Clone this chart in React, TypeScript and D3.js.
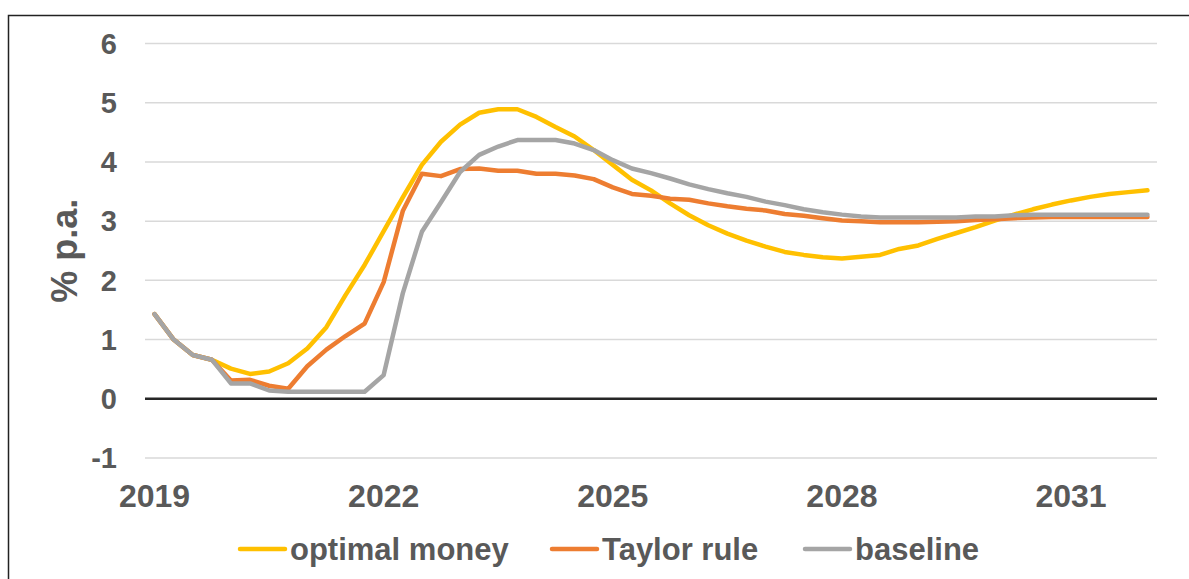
import React from "react";
import * as d3 from "d3";

// quarterly periods 2019Q1 .. 2032Q1
const years = [2019, 2020, 2021, 2022, 2023, 2024, 2025, 2026, 2027, 2028, 2029, 2030, 2031, 2032];
const periods: string[] = years
  .flatMap((y) => ["Q1", "Q2", "Q3", "Q4"].map((q) => `${y}${q}`))
  .slice(0, 53);

const xTickLabels = ["2019", "2022", "2025", "2028", "2031"];
const yTicks = [-1, 0, 1, 2, 3, 4, 5, 6];

const optimalMoney = [
  1.43, 1.0, 0.74, 0.66, 0.51, 0.42, 0.46, 0.6, 0.85, 1.21, 1.75, 2.26, 2.83,
  3.4, 3.95, 4.34, 4.63, 4.83, 4.89, 4.89, 4.76, 4.59, 4.43, 4.2, 3.95, 3.7,
  3.52, 3.3, 3.1, 2.93, 2.79, 2.67, 2.57, 2.48, 2.43, 2.39, 2.37, 2.4, 2.43,
  2.53, 2.59, 2.7, 2.8, 2.9, 3.01, 3.11, 3.2, 3.28, 3.35, 3.41, 3.46, 3.49, 3.52,
];
const taylorRule = [
  1.43, 1.0, 0.74, 0.66, 0.31, 0.32, 0.22, 0.17, 0.55, 0.83, 1.06, 1.27, 1.97,
  3.17, 3.8, 3.76, 3.88, 3.89, 3.85, 3.85, 3.8, 3.8, 3.77, 3.71, 3.57, 3.46,
  3.43, 3.38, 3.36, 3.3, 3.25, 3.21, 3.18, 3.12, 3.09, 3.05, 3.01, 3.0, 2.98,
  2.98, 2.98, 2.99, 3.0, 3.02, 3.03, 3.05, 3.06, 3.07, 3.07, 3.07, 3.07, 3.07, 3.07,
];
const baseline = [
  1.43, 1.0, 0.74, 0.66, 0.26, 0.26, 0.14, 0.12, 0.12, 0.12, 0.12, 0.12, 0.4,
  1.78, 2.82, 3.32, 3.83, 4.12, 4.26, 4.37, 4.37, 4.37, 4.31, 4.2, 4.03, 3.89,
  3.81, 3.72, 3.62, 3.54, 3.47, 3.41, 3.33, 3.27, 3.2, 3.15, 3.11, 3.08, 3.06,
  3.06, 3.06, 3.06, 3.06, 3.08, 3.08, 3.1, 3.11, 3.11, 3.11, 3.11, 3.11, 3.11, 3.11,
];

const series = [
  { name: "optimal money", values: optimalMoney, color: "#FFC000" },
  { name: "Taylor rule", values: taylorRule, color: "#ED7D31" },
  { name: "baseline", values: baseline, color: "#A5A5A5" },
];

const W = 1189;
const H = 579;
const font = "'Liberation Sans', Arial, sans-serif";
const textColor = "#595959";

export default function App() {
  const x = d3.scalePoint<string>().domain(periods).range([145, 1157]).padding(0.5);
  const y = d3.scaleLinear().domain([-1, 6]).range([458, 43.5]);

  const line = d3
    .line<number>()
    .x((_, i) => x(periods[i])!)
    .y((d) => y(d));

  const legendX = [240, 552, 805];

  return (
    <svg
      width={W}
      height={H}
      style={{ position: "absolute", left: 0, top: 0, display: "block", background: "#fff" }}
    >
      <rect x={8.5} y={15.5} width={1300} height={700} fill="#fff" stroke="#222" strokeWidth={1.5} />

      {/* gridlines */}
      {yTicks.map((t) => (
        <line
          key={t}
          x1={145}
          x2={1157}
          y1={y(t)}
          y2={y(t)}
          stroke={t === 0 ? "#262626" : "#D9D9D9"}
          strokeWidth={t === 0 ? 2.5 : 1.5}
        />
      ))}

      {/* y tick labels */}
      {yTicks.map((t) => (
        <text
          key={t}
          x={117}
          y={y(t)}
          dy="0.35em"
          textAnchor="end"
          fontFamily={font}
          fontWeight="bold"
          fontSize={29}
          fill={textColor}
        >
          {t}
        </text>
      ))}

      <text
        transform={`translate(64,${(y(6) + y(-1)) / 2}) rotate(-90)`}
        textAnchor="middle"
        dy="0.35em"
        fontFamily={font}
        fontWeight="bold"
        fontSize={36}
        fill={textColor}
      >
        % p.a.
      </text>

      {/* x tick labels */}
      {xTickLabels.map((lab) => (
        <text
          key={lab}
          x={x(`${lab}Q1`)}
          y={507}
          textAnchor="middle"
          fontFamily={font}
          fontWeight="bold"
          fontSize={32}
          fill={textColor}
        >
          {lab}
        </text>
      ))}

      {/* series */}
      {series.map((s) => (
        <path
          key={s.name}
          d={line(s.values)!}
          fill="none"
          stroke={s.color}
          strokeWidth={4.5}
          strokeLinejoin="round"
          strokeLinecap="round"
        />
      ))}

      {/* legend */}
      {series.map((s, i) => (
        <g key={s.name} transform={`translate(${legendX[i]},549)`}>
          <line x1={0} x2={45} y1={0} y2={0} stroke={s.color} strokeWidth={4.5} strokeLinecap="round" />
          <text
            x={50}
            dy="0.35em"
            fontFamily={font}
            fontWeight="bold"
            fontSize={31}
            fill={textColor}
          >
            {s.name}
          </text>
        </g>
      ))}
    </svg>
  );
}
